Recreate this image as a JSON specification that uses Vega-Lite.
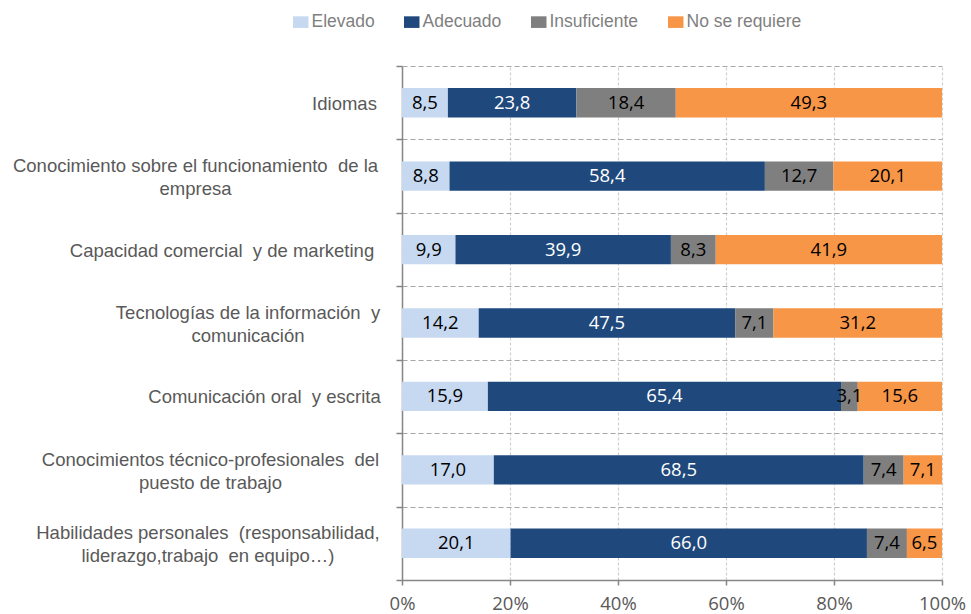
{
  "$schema": "https://vega.github.io/schema/vega-lite/v6.json",
  "autosize": {"type": "none"},
  "width": 540,
  "height": 514,
  "padding": {"left": 402, "top": 66, "right": 29, "bottom": 34},
  "background": "white",
  "config": {"view": {"stroke": null}},
  "data": {
    "values": [
      {"cat": "Idiomas", "serie": "Elevado", "value": 8.5},
      {"cat": "Idiomas", "serie": "Adecuado", "value": 23.8},
      {"cat": "Idiomas", "serie": "Insuficiente", "value": 18.4},
      {"cat": "Idiomas", "serie": "No se requiere", "value": 49.3},
      {"cat": "Conocimiento sobre el funcionamiento\u00a0 de la|empresa", "serie": "Elevado", "value": 8.8},
      {"cat": "Conocimiento sobre el funcionamiento\u00a0 de la|empresa", "serie": "Adecuado", "value": 58.4},
      {"cat": "Conocimiento sobre el funcionamiento\u00a0 de la|empresa", "serie": "Insuficiente", "value": 12.7},
      {"cat": "Conocimiento sobre el funcionamiento\u00a0 de la|empresa", "serie": "No se requiere", "value": 20.1},
      {"cat": "Capacidad comercial\u00a0 y de marketing", "serie": "Elevado", "value": 9.9},
      {"cat": "Capacidad comercial\u00a0 y de marketing", "serie": "Adecuado", "value": 39.9},
      {"cat": "Capacidad comercial\u00a0 y de marketing", "serie": "Insuficiente", "value": 8.3},
      {"cat": "Capacidad comercial\u00a0 y de marketing", "serie": "No se requiere", "value": 41.9},
      {"cat": "Tecnologías de la información\u00a0 y|comunicación", "serie": "Elevado", "value": 14.2},
      {"cat": "Tecnologías de la información\u00a0 y|comunicación", "serie": "Adecuado", "value": 47.5},
      {"cat": "Tecnologías de la información\u00a0 y|comunicación", "serie": "Insuficiente", "value": 7.1},
      {"cat": "Tecnologías de la información\u00a0 y|comunicación", "serie": "No se requiere", "value": 31.2},
      {"cat": "Comunicación oral\u00a0 y escrita", "serie": "Elevado", "value": 15.9},
      {"cat": "Comunicación oral\u00a0 y escrita", "serie": "Adecuado", "value": 65.4},
      {"cat": "Comunicación oral\u00a0 y escrita", "serie": "Insuficiente", "value": 3.1},
      {"cat": "Comunicación oral\u00a0 y escrita", "serie": "No se requiere", "value": 15.6},
      {"cat": "Conocimientos técnico-profesionales\u00a0 del|puesto de trabajo", "serie": "Elevado", "value": 17.0},
      {"cat": "Conocimientos técnico-profesionales\u00a0 del|puesto de trabajo", "serie": "Adecuado", "value": 68.5},
      {"cat": "Conocimientos técnico-profesionales\u00a0 del|puesto de trabajo", "serie": "Insuficiente", "value": 7.4},
      {"cat": "Conocimientos técnico-profesionales\u00a0 del|puesto de trabajo", "serie": "No se requiere", "value": 7.1},
      {"cat": "Habilidades personales\u00a0 (responsabilidad,|liderazgo,trabajo\u00a0 en equipo…)", "serie": "Elevado", "value": 20.1},
      {"cat": "Habilidades personales\u00a0 (responsabilidad,|liderazgo,trabajo\u00a0 en equipo…)", "serie": "Adecuado", "value": 66.0},
      {"cat": "Habilidades personales\u00a0 (responsabilidad,|liderazgo,trabajo\u00a0 en equipo…)", "serie": "Insuficiente", "value": 7.4},
      {"cat": "Habilidades personales\u00a0 (responsabilidad,|liderazgo,trabajo\u00a0 en equipo…)", "serie": "No se requiere", "value": 6.5}
    ]
  },
  "transform": [
    {"calculate": "indexof(['Elevado', 'Adecuado', 'Insuficiente', 'No se requiere'], datum.serie)", "as": "ord"},
    {"stack": "value", "groupby": ["cat"], "offset": "normalize", "sort": [{"field": "ord", "order": "ascending"}], "as": ["v0", "v1"]},
    {"calculate": "(datum.v0 + datum.v1) / 2", "as": "mid"},
    {"calculate": "replace(format(datum.value, '.1f'), '.', ',')", "as": "lbl"}
  ],
  "encoding": {
    "y": {
      "field": "cat",
      "type": "nominal",
      "sort": null,
      "scale": {"paddingInner": 0, "paddingOuter": 0},
      "axis": {
        "title": null,
        "labelExpr": "isString(datum.value) ? split(datum.value, '|') : ''",
        "labelFont": "Liberation Sans",
        "labelFontSize": 18.5,
        "labelColor": "#595959",
        "labelLineHeight": 23,
        "labelAlign": "center",
        "labelBaseline": "middle",
        "labelLimit": 500,
        "labelOffset": {
          "condition": {"test": "indexof(datum.value + '', '|') >= 0", "value": -10.5},
          "value": 0.5
        },
        "labelPadding": {
          "condition": [
            {"test": "indexof(datum.value + '', 'Idiomas') === 0", "value": 52},
            {"test": "indexof(datum.value + '', 'Conocimiento sobre') === 0", "value": 201},
            {"test": "indexof(datum.value + '', 'Capacidad') === 0", "value": 174.5},
            {"test": "indexof(datum.value + '', 'Tecnolog') === 0", "value": 148.5},
            {"test": "indexof(datum.value + '', 'Comunicaci') === 0", "value": 132},
            {"test": "indexof(datum.value + '', 'Conocimientos t') === 0", "value": 186}
          ],
          "value": 188.5
        },
        "tickBand": "extent",
        "tickSize": 6,
        "tickColor": "#868686",
        "tickWidth": 1.5,
        "domainColor": "#868686",
        "domainWidth": 1.5,
        "grid": true,
        "gridColor": "#a6a6a6",
        "gridDash": [5, 3],
        "gridWidth": 1.2
      }
    }
  },
  "layer": [
    {
      "mark": {"type": "bar", "height": {"band": 0.4}},
      "encoding": {
        "x": {
          "field": "v0",
          "type": "quantitative",
          "scale": {"domain": [0, 1], "nice": false},
          "axis": {
            "title": null,
            "format": ".0%",
            "values": [0, 0.2, 0.4, 0.6, 0.8, 1],
            "labelFont": "Open Sans",
            "labelFontSize": 18.5,
            "labelColor": "#595959",
            "labelPadding": 9,
            "labelFlush": false,
            "tickSize": 5,
            "tickColor": "#868686",
            "tickWidth": 1.5,
            "domainColor": "#868686",
            "domainWidth": 1.5,
            "grid": true,
            "gridColor": "#cfcfcf",
            "gridDash": [3, 2],
            "gridWidth": 1.2
          }
        },
        "x2": {"field": "v1"},
        "color": {
          "field": "serie",
          "type": "nominal",
          "scale": {
            "domain": ["Elevado", "Adecuado", "Insuficiente", "No se requiere"],
            "range": ["#c6d9f1", "#1f497d", "#7f7f7f", "#f79646"]
          },
          "legend": {
            "title": null,
            "orient": "none",
            "direction": "horizontal",
            "legendX": -110,
            "legendY": -53,
            "padding": 0,
            "symbolType": "M-1,-0.75H1V0.75H-1Z",
            "symbolSize": 240,
            "symbolStrokeWidth": 0,
            "labelFont": "Liberation Sans",
            "labelFontSize": 17.5,
            "labelColor": "#7f7f7f",
            "labelOffset": 2,
            "columnPadding": 28,
            "labelLimit": 300
          }
        }
      }
    },
    {
      "mark": {"type": "text", "font": "Open Sans", "fontSize": 18.5, "baseline": "middle", "align": "center"},
      "encoding": {
        "x": {"field": "mid", "type": "quantitative"},
        "text": {"field": "lbl", "type": "nominal"},
        "color": {
          "condition": {"test": "datum.serie === 'Adecuado'", "value": "white"},
          "value": "black"
        }
      }
    }
  ]
}
